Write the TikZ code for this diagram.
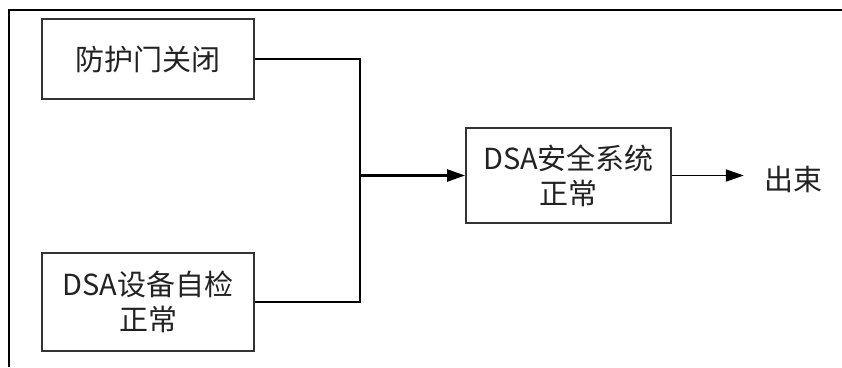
\documentclass[tikz,border=0pt]{standalone}
\usepackage{fontspec}
\setmainfont{Noto Sans CJK SC}
\usetikzlibrary{arrows.meta}
\definecolor{txt}{HTML}{222222}
\definecolor{edge}{HTML}{333333}
\tikzset{
  box/.style={draw=edge, line width=1.8pt, inner sep=0pt, align=center,
    text=txt, font=\fontsize{29}{35}\selectfont},
  link/.style={draw=black, line width=1.8pt},
  arr/.style={link, -{Triangle[length=18pt,width=12pt]}},
  frame/.style={draw=black, line width=2.5pt}
}
\begin{document}
\begin{tikzpicture}[x=1pt,y=-1pt]
\useasboundingbox (0,0) rectangle (842,367);
\fill[white] (0,0) rectangle (842,367);
% frame
\coordinate (fa) at (9,367);
\coordinate (fb) at (9,10);
\coordinate (fc) at (842,10);
\draw[frame] (fa) -- (fb) -- (fc);
% boxes
\node[box, minimum width=212pt, minimum height=80pt] (b1) at (148,59) {防护门关闭};
\node[box, minimum width=212pt, minimum height=98pt] (b2) at (148,302) {DSA设备自检\\正常};
\node[box, minimum width=205pt, minimum height=95pt] (b3) at (568.5,175.5) {DSA安全系统\\正常};
\node[text=txt, font=\fontsize{29}{35}\selectfont, inner sep=0pt] (out) at (793,179) {出束};
% connectors
\coordinate (j) at (360,175.5);
\coordinate (t) at ([xshift=-20pt]b3.east -| out.west);
\draw[link] (b1.east) -| (j);
\draw[link] (b2.east) -| (j);
\draw[arr, line width=2.2pt] (j) -- (b3.west);
\draw[arr] (b3.east) -- (t);
\end{tikzpicture}
\end{document}
